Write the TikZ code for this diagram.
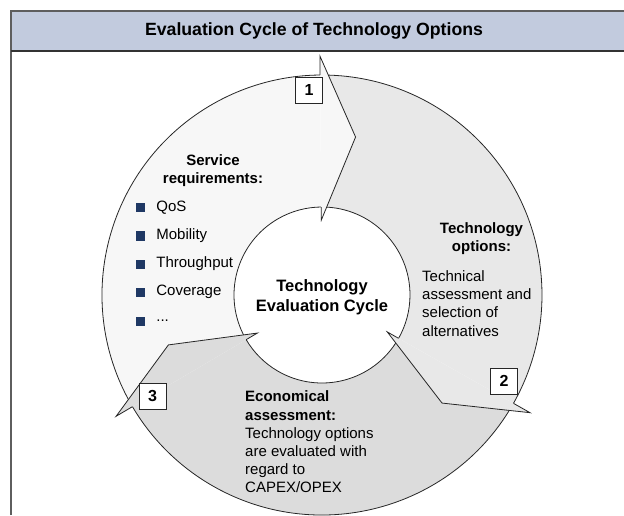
\documentclass[tikz,border=0pt]{standalone}
\usepackage{fontspec}
\setmainfont{Liberation Sans}
\usetikzlibrary{positioning}

\definecolor{headblue}{HTML}{C2CBDE}
\definecolor{framegray}{HTML}{5E5E5E}
\definecolor{bulletblue}{HTML}{1F3864}
\definecolor{stepone}{HTML}{F7F7F7}
\definecolor{steptwo}{HTML}{E8E8E8}
\definecolor{stepthree}{HTML}{DCDCDC}

\begin{document}
\begin{tikzpicture}[x=1pt, y=1pt,
    numbox/.style = {draw=black!85, fill=white, line width=0.8pt,
                     minimum width=27pt, minimum height=26pt, inner sep=0pt,
                     font=\fontsize{16}{16}\selectfont\bfseries},
    heading/.style = {font=\fontsize{15}{18}\selectfont\bfseries,
                      align=center, inner sep=0pt},
    plain/.style = {font=\fontsize{15}{18.2}\selectfont,
                    align=left, inner sep=0pt},
    sqbullet/.style = {fill=bulletblue, minimum size=9pt, inner sep=0pt},
    entry/.style = {font=\fontsize{15}{18}\selectfont, inner sep=0pt},
    ring/.style = {draw=black!85, line width=0.8pt}]

  \useasboundingbox (0,0) rectangle (624,515);
  \clip (0,0) rectangle (624,515);

  % Frame and header
  \fill[headblue] (11,464) rectangle (640,504);
  \draw[framegray, line width=1.2pt] (11,0) -- (11,504) -- (640,504);
  \draw[black!80, line width=1.6pt] (11,464) -- (640,464);
  \node[font=\fontsize{17.7}{17.7}\selectfont\bfseries] (title) at (314,484)
    {Evaluation Cycle of Technology Options};

  \begin{scope}[shift={(322,220)}]
    % Arrow bodies
    \fill[stepone] (209.5:220) arc[start angle=209.5, end angle=90.5, radius=220pt]
      -- (90.5:88) arc[start angle=90.5, end angle=209.5, radius=88pt] -- cycle;
    \fill[steptwo] (89.5:220) arc[start angle=89.5, end angle=-29.5, radius=220pt]
      -- (-29.5:88) arc[start angle=-29.5, end angle=89.5, radius=88pt] -- cycle;
    \fill[stepthree] (-30.5:220) arc[start angle=-30.5, end angle=-149.5, radius=220pt]
      -- (-149.5:88) arc[start angle=-149.5, end angle=-30.5, radius=88pt] -- cycle;

    % Arrow outlines
    \draw[ring] (209.5:220) arc[start angle=209.5, end angle=90.5, radius=220pt];
    \draw[ring] (209.5:88) arc[start angle=209.5, end angle=90.5, radius=88pt];
    \draw[ring] (89.5:220) arc[start angle=89.5, end angle=-29.5, radius=220pt];
    \draw[ring] (89.5:88) arc[start angle=89.5, end angle=-29.5, radius=88pt];
    \draw[ring] (-30.5:220) arc[start angle=-30.5, end angle=-149.5, radius=220pt];
    \draw[ring] (-30.5:88) arc[start angle=-30.5, end angle=-149.5, radius=88pt];

    % Arrow heads
    \filldraw[ring, fill=stepone] (90.5:220) -- (90.5:239) -- (78:161.5)
      -- (90.5:75) -- (90.5:88);
    \filldraw[ring, fill=steptwo] (-29.5:220) -- (-29.5:239) -- (-42:161.5)
      -- (-29.5:75) -- (-29.5:88);
    \filldraw[ring, fill=stepthree] (-149.5:220) -- (-149.5:239) -- (-162:161.5)
      -- (-149.5:75) -- (-149.5:88);
  \end{scope}

  % Step numbers
  \node[numbox] (n1) at (309,425) {1};
  \node[numbox] (n2) at (504,134) {2};
  \node[numbox] (n3) at (152.5,118.5) {3};

  % Service requirements
  \node[heading] (service) at (213,344) {Service\\requirements:};
  \node[sqbullet] (b1) at (140.5,307) {};
  \node[entry, right=11pt of b1] (qos) {QoS};
  \node[sqbullet] (b2) at (140.5,279) {};
  \node[entry, right=11pt of b2] (mobility) {Mobility};
  \node[sqbullet] (b3) at (140.5,251) {};
  \node[entry, right=11pt of b3] (throughput) {Throughput};
  \node[sqbullet] (b4) at (140.5,223) {};
  \node[entry, right=11pt of b4] (coverage) {Coverage};
  \node[sqbullet] (b5) at (140.5,194) {};
  \node[entry, right=11pt of b5] (more) {...};

  % Centre
  \node[font=\fontsize{16.5}{20}\selectfont\bfseries, align=center] (cycle)
    at (322,218) {Technology\\Evaluation Cycle};

  % Technology options
  \node[heading] (options) at (481.5,276) {Technology\\options:};
  \node[plain, anchor=west] (optdesc) at (422,211.5)
    {Technical\\assessment and\\selection of\\alternatives};

  % Economical assessment
  \node[plain, anchor=west] (econ) at (245,73)
    {\textbf{Economical}\\\textbf{assessment:}\\Technology options\\are evaluated with\\regard to\\CAPEX/OPEX};

\end{tikzpicture}
\end{document}
